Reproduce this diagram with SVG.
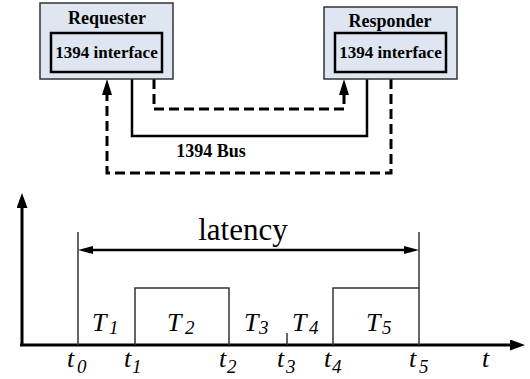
<svg xmlns="http://www.w3.org/2000/svg" width="530" height="379" viewBox="0 0 530 379">
  <style>
    .outer { fill: #dfe6f2; stroke: #333; stroke-width: 1.5; }
    .inner { fill: #dfe6f2; stroke: #000; stroke-width: 2.5; }
    text { font-family: "Liberation Serif", "Times New Roman", serif; fill: #000; }
    .title { font-weight: bold; font-size: 18px; text-anchor: middle; }
    .iface { font-weight: bold; font-size: 17px; text-anchor: middle; }
    .dash { fill: none; stroke: #000; stroke-width: 3; stroke-dasharray: 10 5; }
    .solid { fill: none; stroke: #000; stroke-width: 2.5; }
    .axis { fill: none; stroke: #000; stroke-width: 3; }
    .thin { fill: none; stroke: #333; stroke-width: 1.5; }
    .lat { fill: none; stroke: #000; stroke-width: 2.5; }
    .it { font-style: italic; font-size: 26px; }
    .sub { font-size: 19px; }
    .big { font-size: 31px; text-anchor: middle; }
    .head { fill: #000; stroke: none; }
  </style>
  <defs>
    <marker id="arr" markerUnits="userSpaceOnUse" markerWidth="16" markerHeight="10" refX="0" refY="5" orient="auto">
      <path class="head" d="M0,0 L16,5 L0,10 z"/>
    </marker>
    <marker id="axarr" markerUnits="userSpaceOnUse" markerWidth="15" markerHeight="11" refX="0" refY="5.5" orient="auto">
      <path class="head" d="M0,0 L15,5.5 L0,11 z"/>
    </marker>
    <marker id="latarr" markerUnits="userSpaceOnUse" markerWidth="15" markerHeight="8" refX="0" refY="4" orient="auto-start-reverse">
      <path class="head" d="M0,0 L15,4 L0,8 z"/>
    </marker>
  </defs>

  <!-- bus connectors between the two nodes -->
  <g id="connectors">
    <path class="dash" d="M391,79 V173 H107 V95" marker-end="url(#arr)"/>
    <path class="dash" d="M154,79 V109 H344 V95" marker-end="url(#arr)"/>
    <path class="solid" d="M132,79 V136 H367 V79"/>
    <text class="title" x="211" y="157">1394 Bus</text>
  </g>

  <g id="requester">
    <rect class="outer" x="40" y="3" width="133" height="76"/>
    <text class="title" x="107" y="24">Requester</text>
    <rect class="inner" x="51" y="33" width="111" height="39"/>
    <text class="iface" x="106.5" y="58">1394 interface</text>
  </g>

  <g id="responder">
    <rect class="outer" x="324" y="7" width="133" height="72"/>
    <text class="title" x="390" y="27">Responder</text>
    <rect class="inner" x="335" y="33" width="111" height="39"/>
    <text class="iface" x="390.5" y="58">1394 interface</text>
  </g>

  <!-- timing chart -->
  <g id="timing">
    <path class="axis" d="M22,346 V208" marker-end="url(#axarr)"/>
    <path class="axis" d="M20,345 H510" marker-end="url(#axarr)"/>
    <path class="thin" d="M78,232 V345"/>
    <path class="thin" d="M419,232 V345"/>
    <path class="thin" d="M135,345 V288 H229 V345"/>
    <path class="thin" d="M333,345 V288 H419"/>
    <path class="thin" d="M287,333 V345"/>
    <path class="lat" d="M93,250 H404" marker-start="url(#latarr)" marker-end="url(#latarr)"/>
    <text class="big" x="243" y="240">latency</text>

    <text class="it" x="92" y="331">T</text><text class="it sub" x="109" y="334">1</text>
    <text class="it" x="167" y="331">T</text><text class="it sub" x="185" y="334">2</text>
    <text class="it" x="244" y="331">T</text><text class="it sub" x="259" y="334">3</text>
    <text class="it" x="292" y="331">T</text><text class="it sub" x="309" y="334">4</text>
    <text class="it" x="366" y="331">T</text><text class="it sub" x="382" y="334">5</text>

    <text class="it" x="67" y="367">t</text><text class="it sub" x="77" y="373">0</text>
    <text class="it" x="124" y="367">t</text><text class="it sub" x="132" y="373">1</text>
    <text class="it" x="219" y="367">t</text><text class="it sub" x="227" y="373">2</text>
    <text class="it" x="277" y="367">t</text><text class="it sub" x="286" y="373">3</text>
    <text class="it" x="324" y="367">t</text><text class="it sub" x="332" y="373">4</text>
    <text class="it" x="409" y="367">t</text><text class="it sub" x="419" y="373">5</text>
    <text class="it" x="482" y="367">t</text>
  </g>
</svg>
